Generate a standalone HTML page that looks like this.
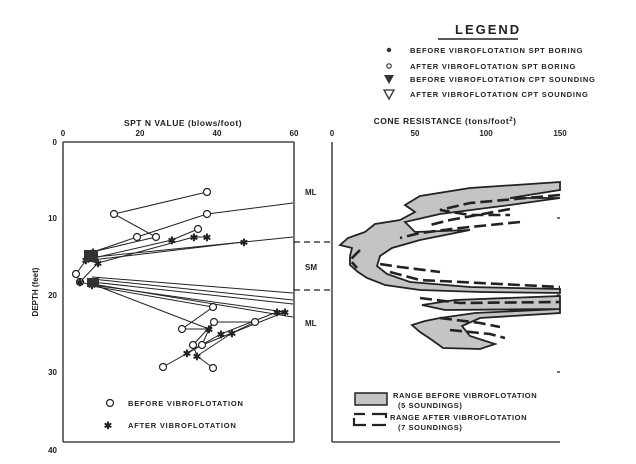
<!DOCTYPE html>
<html><head><meta charset="utf-8"><style>
html,body{margin:0;padding:0;background:#fff;}
svg{display:block;font-family:"Liberation Sans",sans-serif;font-weight:bold;}
</style></head><body>
<svg width="636" height="464" viewBox="0 0 636 464" xmlns="http://www.w3.org/2000/svg">
<rect width="636" height="464" fill="#fff"/>
<!-- Legend -->
<text x="455" y="34" font-size="13" letter-spacing="2" fill="#222">LEGEND</text>
<line x1="438" y1="39" x2="518" y2="39" stroke="#222" stroke-width="1.5"/>
<g font-size="7.5" fill="#222" letter-spacing="0.8">
<circle cx="389" cy="50" r="2.2" fill="#333"/>
<text x="410" y="53">BEFORE  VIBROFLOTATION  SPT  BORING</text>
<circle cx="389" cy="66" r="2.2" fill="none" stroke="#333" stroke-width="1.2"/>
<text x="410" y="69">AFTER   VIBROFLOTATION  SPT  BORING</text>
<polygon points="384,75 394,75 389,84" fill="#333"/>
<text x="410" y="82">BEFORE  VIBROFLOTATION  CPT  SOUNDING</text>
<polygon points="384,90 394,90 389,99" fill="none" stroke="#333" stroke-width="1.3"/>
<text x="410" y="97">AFTER   VIBROFLOTATION  CPT  SOUNDING</text>
</g>
<!-- Left plot axes -->
<g fill="#222">
<text x="183" y="126" font-size="8.5" text-anchor="middle" letter-spacing="0.5">SPT N VALUE (blows/foot)</text>
<g font-size="8" text-anchor="middle">
<text x="63" y="136">0</text><text x="140" y="136">20</text><text x="217" y="136">40</text><text x="294" y="136">60</text>
<text x="332" y="136">0</text><text x="415" y="136">50</text><text x="486" y="136">100</text><text x="560" y="136">150</text>
</g>
<g font-size="8" text-anchor="end">
<text x="57" y="145">0</text><text x="57" y="221">10</text><text x="57" y="298">20</text><text x="57" y="375">30</text><text x="57" y="453">40</text>
</g>
<text transform="translate(38,292) rotate(-90)" font-size="8" text-anchor="middle">DEPTH (feet)</text>
<text x="445" y="124" font-size="8.5" text-anchor="middle" letter-spacing="0.5">CONE RESISTANCE (tons/foot<tspan font-size="6" dy="-3">2</tspan><tspan dy="3">)</tspan></text>
<text x="305" y="195" font-size="8">ML</text>
<text x="305" y="270" font-size="8">SM</text>
<text x="305" y="326" font-size="8">ML</text>
</g>
<g stroke="#222" stroke-width="1.3" fill="none">
<line x1="63" y1="142" x2="294" y2="142"/>
<line x1="63" y1="142" x2="63" y2="442"/>
<line x1="63" y1="442" x2="294" y2="442"/>
<line x1="294" y1="142" x2="294" y2="442"/>
<line x1="332" y1="142" x2="332" y2="442"/>
<line x1="332" y1="442" x2="560" y2="442"/>
<line x1="557" y1="218" x2="560" y2="218"/><line x1="557" y1="295" x2="560" y2="295"/><line x1="557" y1="372" x2="560" y2="372"/>
<line x1="294" y1="242" x2="332" y2="242" stroke-dasharray="6,4"/>
<line x1="294" y1="290" x2="332" y2="290" stroke-dasharray="6,4"/>
</g>
<!-- SPT lines -->
<g stroke="#222" stroke-width="1" fill="none">
<polyline points="207,192 114,214 156,237 92,252"/>
<polyline points="293,203 207,214 137,237 93,252"/>
<polyline points="198,229 172,240 85,260"/>
<polyline points="207,237 194,237 98,263"/>
<polyline points="293,237 244,242 92,260"/>
<polyline points="244,242 85,258"/>
<polyline points="92,252 76,274 80,282 92,285"/>
<polyline points="85,260 98,263 80,282"/>
<polyline points="92,277 293,293"/>
<polyline points="92,279 293,300"/>
<polyline points="92,282 293,304"/>
<polyline points="92,284 293,317"/>
<polyline points="92,285 285,312 277,312"/>
<polyline points="92,284 209,329 214,322 255,322 232,333 197,356"/>
<polyline points="92,286 213,307 182,329 209,329"/>
<polyline points="277,312 221,334 187,353"/>
<polyline points="285,312 232,333 202,345 163,367"/>
<polyline points="214,322 193,345 197,356 213,368"/>
<polyline points="209,329 202,345 187,353"/>
</g>
<g stroke="#222" stroke-width="1.2" fill="#fff">
<circle cx="207" cy="192" r="3.5"/><circle cx="114" cy="214" r="3.5"/><circle cx="207" cy="214" r="3.5"/>
<circle cx="137" cy="237" r="3.5"/><circle cx="156" cy="237" r="3.5"/><circle cx="198" cy="229" r="3.5"/>
<circle cx="76" cy="274" r="3.5"/><circle cx="80" cy="282" r="3.5"/>
<circle cx="213" cy="307" r="3.5"/><circle cx="182" cy="329" r="3.5"/><circle cx="214" cy="322" r="3.5"/>
<circle cx="255" cy="322" r="3.5"/><circle cx="193" cy="345" r="3.5"/><circle cx="202" cy="345" r="3.5"/>
<circle cx="163" cy="367" r="3.5"/><circle cx="213" cy="368" r="3.5"/>
</g>
<g fill="#222" font-size="10" text-anchor="middle">
<text x="172" y="244">✱</text><text x="194" y="241">✱</text><text x="207" y="241">✱</text><text x="244" y="246">✱</text>
<text x="93" y="256">✱</text><text x="86" y="264">✱</text><text x="98" y="267">✱</text><text x="80" y="286">✱</text><text x="92" y="289">✱</text>
<text x="277" y="316">✱</text><text x="285" y="316">✱</text><text x="209" y="333">✱</text><text x="221" y="338">✱</text>
<text x="232" y="337">✱</text><text x="187" y="357">✱</text><text x="197" y="360">✱</text>
</g>
<rect x="84" y="250" width="14" height="12" fill="#333"/>
<rect x="87" y="278" width="12" height="9" fill="#333"/>
<!-- left legend -->
<circle cx="110" cy="403" r="3.5" fill="none" stroke="#222" stroke-width="1.2"/>
<text x="108" y="429" font-size="10" text-anchor="middle" fill="#222">✱</text>
<g font-size="7.5" fill="#222" letter-spacing="0.8">
<text x="128" y="406">BEFORE  VIBROFLOTATION</text>
<text x="128" y="428">AFTER  VIBROFLOTATION</text>
</g>
<!-- CPT bands -->
<g fill="#c4c4c4" stroke="#222" stroke-width="1.8">
<polygon points="560,182 470,188 420,196 405,205 415,212 400,220 375,224 365,232 348,238 340,245 352,248 350,256 350,265 358,272 367,278 385,285 420,290 480,292 560,293 560,289 470,287 410,282 387,274 377,266 380,256 392,248 420,240 470,230 415,232 405,222 440,214 510,205 560,198 510,198 560,190"/>
<polygon points="560,296 455,300 422,305 445,310 560,309 475,313 440,318 425,321 412,325 420,332 432,340 443,348 480,349 495,344 470,336 462,326 480,318 560,313"/>
</g>
<g stroke="#222" stroke-width="2.6" fill="none" stroke-dasharray="12,5">
<path d="M560,195 L470,203 L440,210 L470,215 L510,215"/>
<path d="M520,222 L460,228 L420,233 L400,238"/>
<path d="M510,209 L450,220 L430,225"/>
<path d="M360,250 L350,260 L357,268"/>
<path d="M380,264 L400,267 L440,272"/>
<path d="M390,272 L420,280 L500,284 L560,287"/>
<path d="M420,298 L460,303 L560,302"/>
<path d="M440,318 L480,323 L500,327"/>
<path d="M450,330 L490,334 L505,338"/>
</g>
<!-- right legend -->
<rect x="355" y="393" width="32" height="12" fill="#c4c4c4" stroke="#222" stroke-width="1.5"/>
<path d="M354,414 L365,414 M372,414 L386,414 L386,418 M354,418 L354,425 L366,425 M372,425 L386,425" stroke="#222" stroke-width="2.2" fill="none"/>
<g font-size="7.5" fill="#222" letter-spacing="0.6">
<text x="393" y="398">RANGE  BEFORE  VIBROFLOTATION</text>
<text x="398" y="408">(5  SOUNDINGS)</text>
<text x="390" y="420">RANGE  AFTER  VIBROFLOTATION</text>
<text x="398" y="430">(7  SOUNDINGS)</text>
</g>
</svg>
</body></html>
